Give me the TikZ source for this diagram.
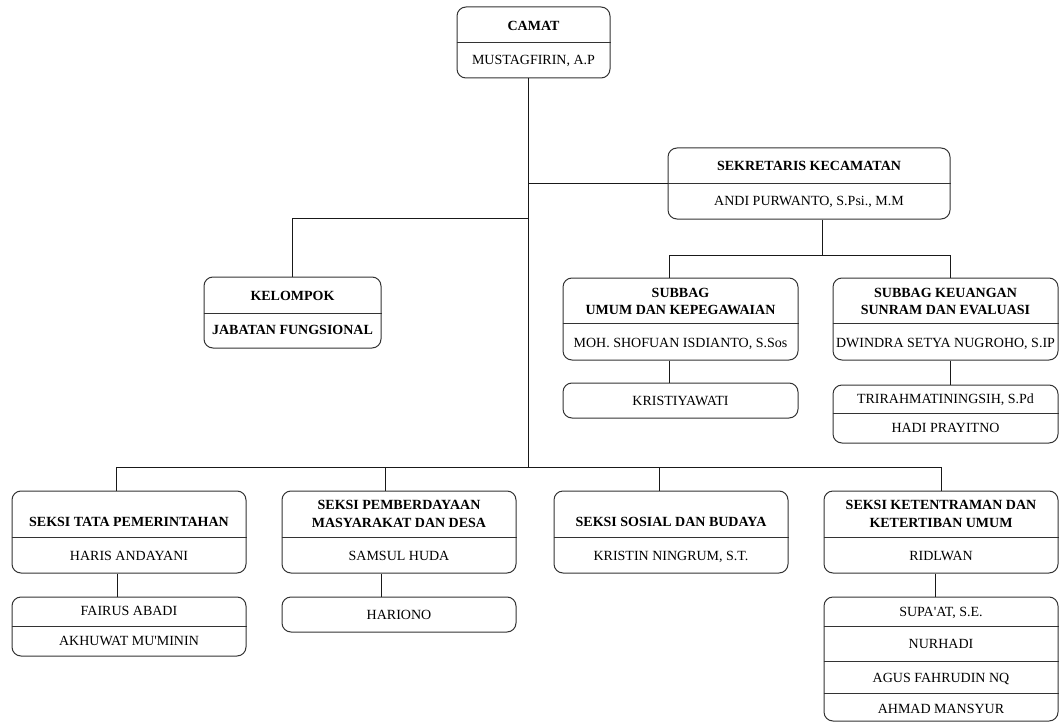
\documentclass[tikz,border=0pt]{standalone}
\usepackage{fontspec}
\setmainfont{Liberation Serif}
\begin{document}
\begin{tikzpicture}[x=1pt,y=-1pt,
  box/.style n args={2}{draw=black!80, line width=1pt, rounded corners=9pt, minimum width=#1, minimum height=#2, inner sep=0pt},
  divl/.style={draw=black!80, line width=1pt},
  conn/.style={draw=black!90, line width=1pt},
  lbl/.style={font=\fontsize{14}{16}\selectfont, inner sep=0pt, text height=9.3pt, text depth=0pt},
  bl/.style={lbl, font=\fontsize{14}{16}\selectfont\bfseries}]
\useasboundingbox (0,0) rectangle (1062,722);

% ---------- boxes ----------
\node[box={153}{71}] (camat) at (533.5,42.5) {};
\node[box={282}{71}] (sek) at (809,183.5) {};
\node[box={177}{71}] (kel) at (292.5,312.5) {};
\node[box={235}{82}] (subA) at (680.5,319) {};
\node[box={225}{82}] (subB) at (945.5,319) {};
\node[box={235}{35}] (krist) at (680.5,400.5) {};
\node[box={225}{58}] (trir) at (945.5,414) {};
\node[box={234}{82}] (tata) at (129,532) {};
\node[box={234}{82}] (pemb) at (399,532) {};
\node[box={234}{82}] (sos) at (671,532) {};
\node[box={234}{82}] (ket) at (941,532) {};
\node[box={234}{59}] (fair) at (129,626.5) {};
\node[box={234}{35}] (hari) at (399,614.5) {};
\node[box={234}{124}] (ksub) at (941,659) {};

% ---------- dividers ----------
\draw[divl] (camat.west |- 0,43) -- (camat.east |- 0,43);
\draw[divl] (sek.west |- 0,183.5) -- (sek.east |- 0,183.5);
\draw[divl] (kel.west |- 0,313) -- (kel.east |- 0,313);
\draw[divl] (subA.west |- 0,323) -- (subA.east |- 0,323);
\draw[divl] (subB.west |- 0,323) -- (subB.east |- 0,323);
\draw[divl] (trir.west |- 0,413.5) -- (trir.east |- 0,413.5);
\draw[divl] (tata.west |- 0,537) -- (tata.east |- 0,537);
\draw[divl] (pemb.west |- 0,537) -- (pemb.east |- 0,537);
\draw[divl] (sos.west |- 0,537) -- (sos.east |- 0,537);
\draw[divl] (ket.west |- 0,537) -- (ket.east |- 0,537);
\draw[divl] (fair.west |- 0,626) -- (fair.east |- 0,626);
\draw[divl] (ksub.west |- 0,626) -- (ksub.east |- 0,626);
\draw[divl] (ksub.west |- 0,661) -- (ksub.east |- 0,661);
\draw[divl] (ksub.west |- 0,693) -- (ksub.east |- 0,693);

% ---------- junction coordinates ----------
\coordinate (jS) at (528,183.5);
\coordinate (jK) at (528,218);
\coordinate (jB) at (528,467);
\coordinate (jSub) at (822,255);
\coordinate (cA) at (669,255);
\coordinate (cB) at (950,255);
\coordinate (b1) at (116,467);
\coordinate (b2) at (385,467);
\coordinate (b3) at (659,467);
\coordinate (b4) at (941,467);
\coordinate (d1) at (117,580);
\coordinate (d2) at (381,580);
\coordinate (d4) at (935,580);

% ---------- connectors ----------
\draw[conn] (camat.south -| jB) -- (jB);
\draw[conn] (jS) -- (sek.west);
\draw[conn] (jK) -| (kel.north);
\draw[conn] (sek.south -| jSub) -- (jSub);
\draw[conn] (cA) -- (cB);
\draw[conn] (cA) -- (subA.north -| cA);
\draw[conn] (cB) -- (subB.north -| cB);
\draw[conn] (subA.south -| cA) -- (krist.north -| cA);
\draw[conn] (subB.south -| cB) -- (trir.north -| cB);
\draw[conn] (b1) -- (b4);
\draw[conn] (b1) -- (tata.north -| b1);
\draw[conn] (b2) -- (pemb.north -| b2);
\draw[conn] (b3) -- (sos.north -| b3);
\draw[conn] (b4) -- (ket.north -| b4);
\draw[conn] (tata.south -| d1) -- (fair.north -| d1);
\draw[conn] (pemb.south -| d2) -- (hari.north -| d2);
\draw[conn] (ket.south -| d4) -- (ksub.north -| d4);

% ---------- texts ----------
\node[bl] (t1) at (533.5,26) {CAMAT};
\node[lbl] (t2) at (533.5,60) {MUSTAGFIRIN, A.P};
\node[bl] (t3) at (809,166) {SEKRETARIS KECAMATAN};
\node[lbl] (t4) at (809,201) {ANDI PURWANTO, S.Psi., M.M};
\node[bl] (t5) at (292.5,296) {KELOMPOK};
\node[bl] (t6) at (292.5,330) {JABATAN FUNGSIONAL};
\node[bl] (t7) at (680.5,293) {SUBBAG};
\node[bl] (t8) at (680.5,310) {UMUM DAN KEPEGAWAIAN};
\node[lbl] (t9) at (680.5,343) {MOH. SHOFUAN ISDIANTO, S.Sos};
\node[bl] (t10) at (945.5,293) {SUBBAG KEUANGAN};
\node[bl] (t11) at (945.5,310) {SUNRAM DAN EVALUASI};
\node[lbl] (t12) at (945.5,343) {DWINDRA SETYA NUGROHO, S.IP};
\node[lbl] (t13) at (680.5,400.5) {KRISTIYAWATI};
\node[lbl] (t14) at (945.5,399) {TRIRAHMATININGSIH, S.Pd};
\node[lbl] (t15) at (945.5,428) {HADI PRAYITNO};
\node[bl] (t16) at (129,522) {SEKSI TATA PEMERINTAHAN};
\node[lbl] (t17) at (129,556) {HARIS ANDAYANI};
\node[bl] (t18) at (399,505) {SEKSI PEMBERDAYAAN};
\node[bl] (t19) at (399,523) {MASYARAKAT DAN DESA};
\node[lbl] (t20) at (399,556) {SAMSUL HUDA};
\node[bl] (t21) at (671,522) {SEKSI SOSIAL DAN BUDAYA};
\node[lbl] (t22) at (671,556) {KRISTIN NINGRUM, S.T.};
\node[bl] (t23) at (941,505) {SEKSI KETENTRAMAN DAN};
\node[bl] (t24) at (941,523) {KETERTIBAN UMUM};
\node[lbl] (t25) at (941,556) {RIDLWAN};
\node[lbl] (t26) at (129,611) {FAIRUS ABADI};
\node[lbl] (t27) at (129,641) {AKHUWAT MU\textquotesingle MININ};
\node[lbl] (t28) at (399,614.5) {HARIONO};
\node[lbl] (t29) at (941,612) {SUPA\textquotesingle AT, S.E.};
\node[lbl] (t30) at (941,644) {NURHADI};
\node[lbl] (t31) at (941,678) {AGUS FAHRUDIN NQ};
\node[lbl] (t32) at (941,709) {AHMAD MANSYUR};
\end{tikzpicture}
\end{document}
